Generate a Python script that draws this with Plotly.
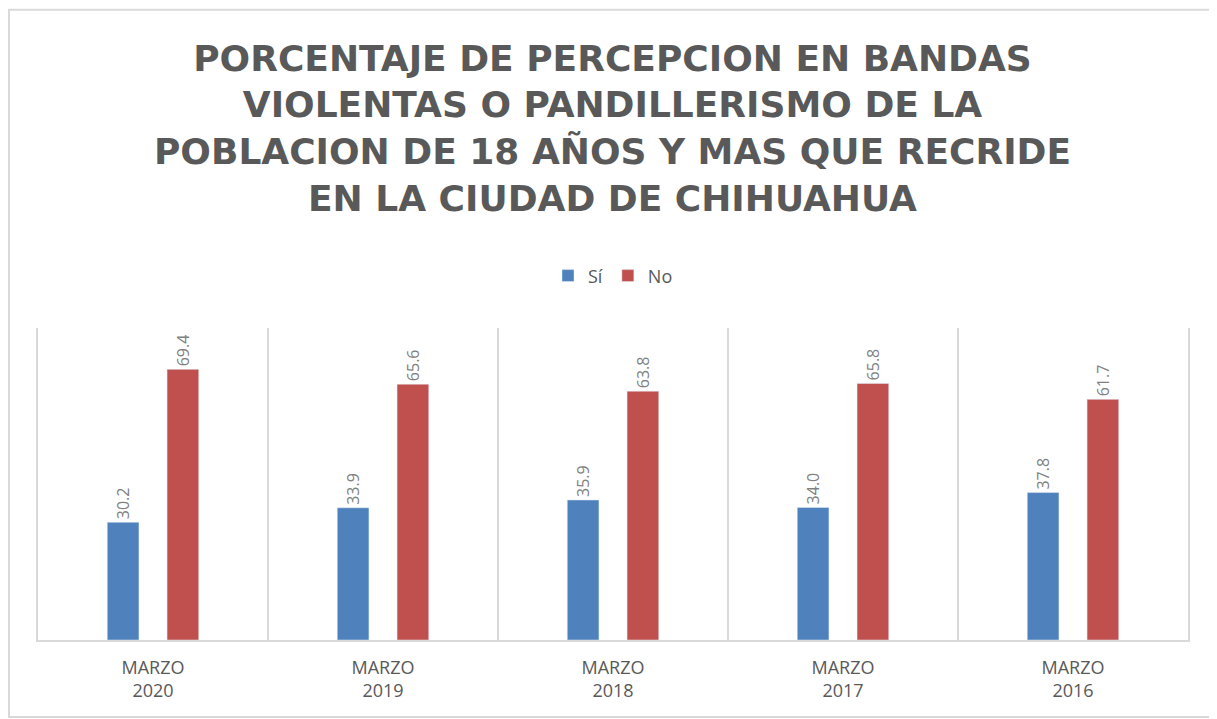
import plotly.graph_objects as go

# Values
CATEGORIES = ["MARZO<br>2020", "MARZO<br>2019", "MARZO<br>2018", "MARZO<br>2017", "MARZO<br>2016"]
SI_VALUES = [30.2, 33.9, 35.9, 34.0, 37.8]
NO_VALUES = [69.4, 65.6, 63.8, 65.8, 61.7]

BLUE = "#4F81BD"
RED = "#C0504D"
TITLE_GRAY = "#595959"
LABEL_GRAY = "#808080"
LINE_GRAY = "#D9D9D9"

TITLE = ("PORCENTAJE DE PERCEPCION EN BANDAS<br>VIOLENTAS O PANDILLERISMO DE LA<br>"
         "POBLACION DE 18 AÑOS Y MAS QUE RECRIDE<br>EN LA CIUDAD DE CHIHUAHUA")

fig = go.Figure()
for name, values, color in [("Sí", SI_VALUES, BLUE), ("No", NO_VALUES, RED)]:
    fig.add_trace(go.Bar(
        x=CATEGORIES,
        y=values,
        name=name,
        marker={"color": color},
        text=[f"{v:.1f}" for v in values],
        textposition="outside",
        textangle=-90,
        textfont={"family": "Open Sans", "size": 16, "color": LABEL_GRAY},
        cliponaxis=False,
    ))

# page body adds an 8px offset, so the figure is 8px smaller each way
fig.update_layout(
    width=1209,
    height=711,
    barmode="group",
    bargap=0.48,
    bargroupgap=0.47,
    paper_bgcolor="white",
    plot_bgcolor="white",
    margin={"l": 30, "r": 29, "t": 320, "b": 79},
    title={
        "text": TITLE,
        "x": 0.5,
        "xanchor": "center",
        "y": 0.912,
        "yanchor": "top",
        "font": {"family": "DejaVu Sans", "size": 36, "color": TITLE_GRAY, "weight": "bold"},
    },
    legend={
        "orientation": "h",
        "x": 0.5,
        "xanchor": "center",
        "y": 1.167,
        "yanchor": "middle",
        "font": {"family": "Open Sans", "size": 18, "color": TITLE_GRAY},
        "itemwidth": 30,
    },
    xaxis={
        "showgrid": True,
        "gridcolor": LINE_GRAY,
        "gridwidth": 2,
        "tickson": "boundaries",
        "ticks": "",
        "ticklabelstandoff": 10,
        "showline": True,
        "linecolor": LINE_GRAY,
        "linewidth": 2,
        "tickfont": {"family": "Open Sans", "size": 18, "color": TITLE_GRAY},
    },
    yaxis={
        "range": [0, 80],
        "showgrid": False,
        "showticklabels": False,
        "zeroline": False,
        "showline": True,
        "mirror": True,
        "linecolor": LINE_GRAY,
        "linewidth": 2,
    },
    shapes=[{
        "type": "rect",
        "xref": "paper",
        "yref": "paper",
        "x0": -0.0252,
        "x1": 1.0235,
        "y0": -0.247,
        "y1": 2.02,
        "line": {"color": LINE_GRAY, "width": 2},
        "layer": "below",
    }],
)

fig.write_html("out.html")
